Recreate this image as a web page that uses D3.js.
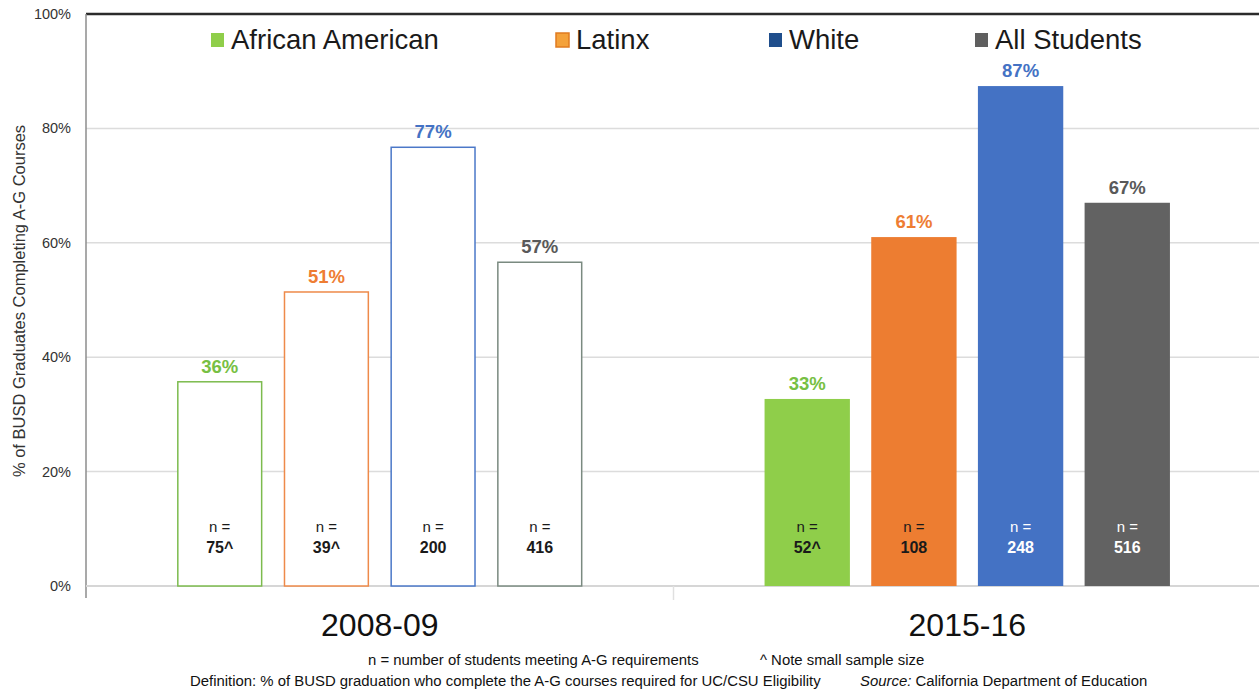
<!DOCTYPE html>
<html>
<head>
<meta charset="utf-8">
<script src="https://cdn.jsdelivr.net/npm/d3@7"></script>
<style>
  body { margin: 0; background: #fff; }
  svg { font-family: "Liberation Sans", Arial, sans-serif; display: block; }
</style>
</head>
<body>
<div id="chart"></div>
<script>
// Datos del grafico
const years = ["2008-09", "2015-16"];
const groups = ["African American", "Latinx", "White", "All Students"];
const values2008 = [35.7, 51.4, 76.7, 56.6];
const values2015 = [32.7, 61.0, 87.4, 67.0];
const labels2008 = ["36%", "51%", "77%", "57%"];
const labels2015 = ["33%", "61%", "87%", "67%"];
const counts2008 = ["75^", "39^", "200", "416"];
const counts2015 = ["52^", "108", "248", "516"];
const yTicks = [0, 20, 40, 60, 80, 100];

// Colores
const barColors = ["#8fce4a", "#ed7d31", "#4472c4", "#626262"];
const outlineColors = ["#7cbb4e", "#ee8a4a", "#4b78c8", "#7a8a80"];
const labelColors = ["#77c043", "#ee7d33", "#4472c4", "#595959"];
const legendColors = ["#8fce4a", "#f4a23b", "#1f4e8c", "#5f5f5f"];
const legendStroke = ["none", "#e07b20", "none", "none"];

const width = 1259;
const height = 692;
const margin = { top: 14, left: 86, bottom: 106, right: -2 };

const svg = d3.select("#chart").append("svg")
    .attr("width", width)
    .attr("height", height);

const y = d3.scaleLinear()
    .domain([0, 100])
    .range([height - margin.bottom, margin.top]);

const x0 = d3.scaleBand()
    .domain(years)
    .range([margin.left, width - margin.right]);

const x1 = d3.scaleBand()
    .domain(groups)
    .range([0, x0.bandwidth() * 0.69])
    .paddingInner(0.2);

const groupOffset = x0.bandwidth() * 0.155;

// Lineas de la cuadricula
svg.selectAll(".grid")
    .data(yTicks.filter(t => t > 0 && t < 100))
    .enter().append("line")
    .attr("x1", margin.left)
    .attr("x2", width)
    .attr("y1", d => y(d))
    .attr("y2", d => y(d))
    .attr("stroke", "#dcdcdc")
    .attr("stroke-width", 1.5);

// Linea superior
svg.append("line")
    .attr("x1", margin.left)
    .attr("x2", width)
    .attr("y1", y(100))
    .attr("y2", y(100))
    .attr("stroke", "#2b2b2b")
    .attr("stroke-width", 2.5);

// Eje y
svg.append("line")
    .attr("x1", margin.left)
    .attr("x2", margin.left)
    .attr("y1", y(100))
    .attr("y2", y(0) + 12)
    .attr("stroke", "#8c8c8c")
    .attr("stroke-width", 1.5);

svg.selectAll(".ytick")
    .data(yTicks)
    .enter().append("text")
    .attr("x", margin.left - 15)
    .attr("y", d => y(d) + 5)
    .attr("text-anchor", "end")
    .attr("font-size", 14.5)
    .attr("fill", "#333")
    .text(d => d + "%");

svg.append("text")
    .attr("transform", `translate(25, ${y(50) + 1}) rotate(-90)`)
    .attr("text-anchor", "middle")
    .attr("font-size", 16.5)
    .attr("fill", "#333")
    .text("% of BUSD Graduates Completing A-G Courses");

// Eje x
svg.append("line")
    .attr("x1", margin.left)
    .attr("x2", width)
    .attr("y1", y(0))
    .attr("y2", y(0))
    .attr("stroke", "#d6d6d6")
    .attr("stroke-width", 2);

svg.append("line")
    .attr("x1", x0(years[1]))
    .attr("x2", x0(years[1]))
    .attr("y1", y(0))
    .attr("y2", y(0) + 14)
    .attr("stroke", "#e0e0e0")
    .attr("stroke-width", 1.5);

svg.selectAll(".year")
    .data(years)
    .enter().append("text")
    .attr("x", d => x0(d) + x0.bandwidth() / 2)
    .attr("y", y(0) + 50)
    .attr("text-anchor", "middle")
    .attr("font-size", 32)
    .attr("fill", "#111")
    .text(d => d);

// Barras
const series = [
    { year: years[0], values: values2008, labels: labels2008, counts: counts2008, filled: false },
    { year: years[1], values: values2015, labels: labels2015, counts: counts2015, filled: true }
];

series.forEach(s => {
    const g = svg.append("g")
        .attr("transform", `translate(${x0(s.year) + groupOffset},0)`);

    const rows = groups.map((grp, i) => ({
        grp, i, v: s.values[i], label: s.labels[i], n: s.counts[i]
    }));

    g.selectAll("rect")
        .data(rows)
        .enter().append("rect")
        .attr("x", d => x1(d.grp) + (s.filled ? 0 : 0.75))
        .attr("width", x1.bandwidth() - (s.filled ? 0 : 1.5))
        .attr("y", d => y(d.v))
        .attr("height", d => y(0) - y(d.v))
        .attr("fill", d => s.filled ? barColors[d.i] : "#fff")
        .attr("stroke", d => s.filled ? "none" : outlineColors[d.i])
        .attr("stroke-width", 1.5);

    g.selectAll(".val")
        .data(rows)
        .enter().append("text")
        .attr("x", d => x1(d.grp) + x1.bandwidth() / 2)
        .attr("y", d => y(d.v) - 9)
        .attr("text-anchor", "middle")
        .attr("font-size", 18.5)
        .attr("font-weight", "bold")
        .attr("fill", d => labelColors[d.i])
        .text(d => d.label);

    const nColor = d => (s.filled && d.i >= 2) ? "#fff" : "#1a1a1a";

    g.selectAll(".neq")
        .data(rows)
        .enter().append("text")
        .attr("x", d => x1(d.grp) + x1.bandwidth() / 2)
        .attr("y", y(0) - 54)
        .attr("text-anchor", "middle")
        .attr("font-size", 15)
        .attr("fill", nColor)
        .text("n =");

    g.selectAll(".nval")
        .data(rows)
        .enter().append("text")
        .attr("x", d => x1(d.grp) + x1.bandwidth() / 2)
        .attr("y", y(0) - 33)
        .attr("text-anchor", "middle")
        .attr("font-size", 16)
        .attr("font-weight", "bold")
        .attr("fill", nColor)
        .text(d => d.n);
});

// Leyenda
const legendX = [211, 556, 769, 975];
const legend = svg.selectAll(".legend")
    .data(groups)
    .enter().append("g")
    .attr("transform", (d, i) => `translate(${legendX[i]},33)`);

legend.append("rect")
    .attr("width", 13)
    .attr("height", 14)
    .attr("fill", (d, i) => legendColors[i])
    .attr("stroke", (d, i) => legendStroke[i])
    .attr("stroke-width", 1.5);

legend.append("text")
    .attr("x", 20)
    .attr("y", 16)
    .attr("font-size", 27.5)
    .attr("fill", "#1a1a1a")
    .text(d => d);

// Notas al pie
svg.append("text")
    .attr("x", 368)
    .attr("y", 665)
    .attr("font-size", 14.9)
    .attr("fill", "#111")
    .text("n = number of students meeting A-G requirements");

svg.append("text")
    .attr("x", 760)
    .attr("y", 665)
    .attr("font-size", 14.9)
    .attr("fill", "#111")
    .text("^ Note small sample size");

svg.append("text")
    .attr("x", 190)
    .attr("y", 686)
    .attr("font-size", 14.9)
    .attr("fill", "#111")
    .text("Definition: % of BUSD graduation who complete the A-G courses required for UC/CSU Eligibility");

const src = svg.append("text")
    .attr("x", 860)
    .attr("y", 686)
    .attr("font-size", 14.9)
    .attr("fill", "#111");
src.append("tspan").attr("font-style", "italic").text("Source:");
src.append("tspan").text(" California Department of Education");
</script>
</body>
</html>
